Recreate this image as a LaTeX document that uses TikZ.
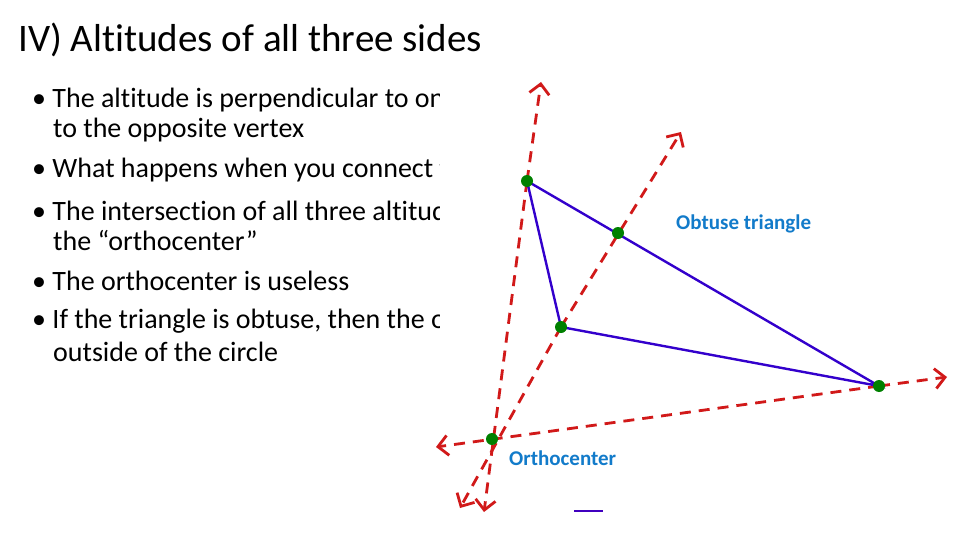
\documentclass[tikz,border=0pt]{standalone}
\usepackage{fontspec}
\setmainfont[Ligatures={NoCommon}]{Carlito}
\usetikzlibrary{arrows.meta}
\begin{document}
\begin{tikzpicture}[x=1pt,y=-1pt,
  alt/.style={draw=red!80!black!90, dashed, dash pattern=on 11pt off 8pt, line width=2.8pt, -{Straight Barb[length=10pt,width=20pt]}},
  side/.style={draw=blue!60!violet, line width=2.4pt},
  pt/.style={circle, fill=green!50!black, inner sep=0pt, minimum size=12pt},
  lbl/.style={text=cyan!60!blue, font=\bfseries\fontsize{21}{21}\selectfont, inner sep=0pt},
  bul/.style={anchor=west, font=\fontsize{28}{30}\selectfont, inner sep=0pt}]
\useasboundingbox (0,0) rectangle (960,540);
\fill[white] (0,0) rectangle (960,540);
\node[anchor=west, font=\fontsize{39}{40}\selectfont, inner sep=0pt] (title) at (18,40) {IV) Altitudes of all three sides};
\node[bul] (b1) at (32,100) {\textbullet\ The altitude is perpendicular to one side and goes};
\node[bul] (b1b) at (53,130) {to the opposite vertex};
\node[bul] (b2) at (32,170) {\textbullet\ What happens when you connect them all?};
\node[bul] (b3) at (32,211) {\textbullet\ The intersection of all three altitudes is called};
\node[bul] (b3b) at (53,241) {the “orthocenter”};
\node[bul] (b4) at (32,281) {\textbullet\ The orthocenter is useless};
\node[bul] (b5) at (32,321) {\textbullet\ If the triangle is obtuse, then the orthocenter is};
\node[bul] (b5b) at (53,352) {outside of the circle};
\fill[white] (440,75) rectangle (960,520);
\coordinate (A) at (527,181);
\coordinate (B) at (561,327);
\coordinate (C) at (879,386);
\coordinate (F) at (618,233);
\coordinate (H) at (492,439);
\coordinate (a1) at (541,82);
\coordinate (a2) at (484,512);
\coordinate (b1e) at (681,132);
\coordinate (b2e) at (460,508);
\coordinate (c1) at (947,377);
\coordinate (c2) at (436,447);
\draw[alt] (A) -- (a1);
\draw[alt] (A) -- (a2);
\draw[alt] (B) -- (b1e);
\draw[alt] (B) -- (b2e);
\draw[alt] (C) -- (c1);
\draw[alt] (C) -- (c2);
\draw[side] (A) -- (B) -- (C) -- cycle;
\foreach \p in {A,B,C,F,H} \node[pt] at (\p) {};
\node[lbl, anchor=west] (ot) at (676,224) {Obtuse triangle};
\node[lbl, anchor=west] (oc) at (509,458) {Orthocenter};
\draw[blue!50!violet, line width=2pt] (574,511) -- (603,511);
\end{tikzpicture}
\end{document}
